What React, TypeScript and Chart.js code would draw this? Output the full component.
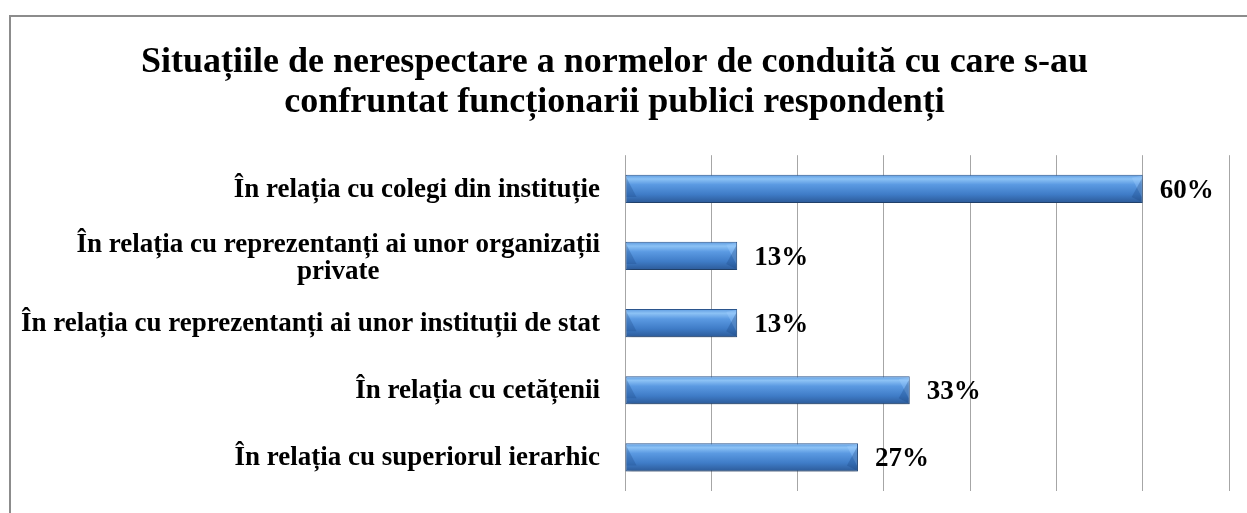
import { useEffect, useRef } from "react";
import { Chart, registerables } from "chart.js";

Chart.register(...registerables);

const titleLines = [
  "Situațiile de nerespectare a normelor de conduită cu care s-au",
  "confruntat funcționarii publici respondenți",
];

const categories: string[][] = [
  ["În relația cu colegi din instituție"],
  ["În relația cu reprezentanți ai unor organizații", "private"],
  ["În relația cu reprezentanți ai unor instituții de stat"],
  ["În relația cu cetățenii"],
  ["În relația cu superiorul ierarhic"],
];

const values = [60, 13, 13, 33, 27];
const valueLabels = ["60%", "13%", "13%", "33%", "27%"];

const axisMin = 0;
const axisMax = 70;
const axisStep = 10;

const SERIF = "'Liberation Serif', 'Times New Roman', serif";

const decorPlugin = {
  id: "decor",
  beforeDatasetsDraw(chart: any) {
    const ctx = chart.ctx;
    ctx.save();
    ctx.shadowColor = "rgba(0,0,0,0.3)";
    ctx.shadowBlur = 5;
    ctx.shadowOffsetX = 1;
    ctx.shadowOffsetY = 4;
  },
  afterDatasetsDraw(chart: any) {
    const ctx = chart.ctx;
    ctx.restore();
    const meta = chart.getDatasetMeta(0);
    meta.data.forEach((bar: any, i: number) => {
      const h = bar.height;
      const top = bar.y - h / 2;
      const bot = bar.y + h / 2;
      const l = bar.base;
      const r = bar.x;
      const b = Math.min(11, (r - l) / 3);
      ctx.save();
      ctx.fillStyle = "rgba(25,70,130,0.28)";
      ctx.beginPath();
      ctx.moveTo(l + 1, top + 3);
      ctx.lineTo(l + b, bot - 6);
      ctx.lineTo(l + 1, bot - 6);
      ctx.closePath();
      ctx.fill();
      ctx.fillStyle = "rgba(160,205,255,0.35)";
      ctx.beginPath();
      ctx.moveTo(r - 1, top + 1);
      ctx.lineTo(r - b, top + 3);
      ctx.lineTo(r - 1, bot - 6);
      ctx.closePath();
      ctx.fill();
      ctx.fillStyle = "rgba(25,70,130,0.3)";
      ctx.beginPath();
      ctx.moveTo(r - 1, bot - 1);
      ctx.lineTo(r - b, bot - 6);
      ctx.lineTo(r - 1, top + 4);
      ctx.closePath();
      ctx.fill();
      ctx.restore();

      ctx.save();
      ctx.font = `bold 27px ${SERIF}`;
      ctx.fillStyle = "#000";
      ctx.textAlign = "left";
      ctx.textBaseline = "middle";
      ctx.fillText(valueLabels[i], r + 17, bar.y + 2);
      ctx.restore();
    });
  },
  afterDraw(chart: any) {
    const ctx = chart.ctx;
    const yScale = chart.scales.y;
    ctx.save();
    ctx.font = `bold 27px ${SERIF}`;
    ctx.fillStyle = "#000";
    ctx.textBaseline = "middle";
    ctx.textAlign = "center";
    const rightEdge = chart.chartArea.left - 25;
    const lh = 27;
    categories.forEach((lines, i) => {
      const y = yScale.getPixelForTick(i);
      const w = Math.max(...lines.map((t) => ctx.measureText(t).width));
      const cx = rightEdge - w / 2;
      const y0 = y - ((lines.length - 1) * lh) / 2 + (lines.length > 1 ? 3 : 1);
      lines.forEach((t, j) => ctx.fillText(t, cx, y0 + j * lh));
    });
    ctx.restore();
    ctx.save();
    ctx.strokeStyle = "#8c8c8c";
    ctx.lineWidth = 2;
    ctx.beginPath();
    ctx.moveTo(10, chart.height);
    ctx.lineTo(10, 16);
    ctx.lineTo(chart.width, 16);
    ctx.stroke();
    ctx.restore();
  },
};

export default function App() {
  const ref = useRef<HTMLCanvasElement>(null);
  useEffect(() => {
    const canvas = ref.current!;
    const chart = new Chart(canvas, {
      type: "bar",
      data: {
        labels: categories as any,
        datasets: [
          {
            data: values,
            backgroundColor: (c: any) => {
              const ch = c.chart;
              if (!ch.chartArea) return "#4a86d0";
              const y = ch.scales.y.getPixelForValue(c.dataIndex);
              const h = 14;
              const g = ch.ctx.createLinearGradient(0, y - h, 0, y + h);
              g.addColorStop(0, "#5d9be0");
              g.addColorStop(0.15, "#8cc2f5");
              g.addColorStop(0.35, "#5b9ae2");
              g.addColorStop(0.7, "#3f7cc7");
              g.addColorStop(1, "#2c5a98");
              return g;
            },
            borderColor: "#2b568e",
            borderWidth: 1,
            borderSkipped: false,
            categoryPercentage: 1,
            barPercentage: 0.42,
          },
        ],
      },
      options: {
        indexAxis: "y",
        responsive: false,
        animation: false,
        layout: { padding: { left: 0, right: 18, top: 0, bottom: 22 } },
        plugins: {
          legend: { display: false },
          tooltip: { enabled: false },
          title: {
            display: true,
            text: titleLines,
            color: "#000",
            font: { family: SERIF, size: 36, weight: "bold", lineHeight: 1.1 },
            padding: { top: 43, bottom: 33 },
          },
        },
        scales: {
          x: {
            min: axisMin,
            max: axisMax,
            ticks: { display: false, stepSize: axisStep },
            grid: { color: "#a6a6a6", lineWidth: 1, drawTicks: false },
            border: { display: false },
          },
          y: {
            ticks: { display: false },
            grid: { display: false },
            border: { display: false },
            afterFit: (s: any) => {
              s.width = 625;
            },
          },
        },
      },
      plugins: [decorPlugin],
    } as any);
    return () => chart.destroy();
  }, []);
  return (
    <canvas
      ref={ref}
      width={1247}
      height={513}
      style={{ position: "fixed", left: 0, top: 0, background: "#fff" }}
    />
  );
}
